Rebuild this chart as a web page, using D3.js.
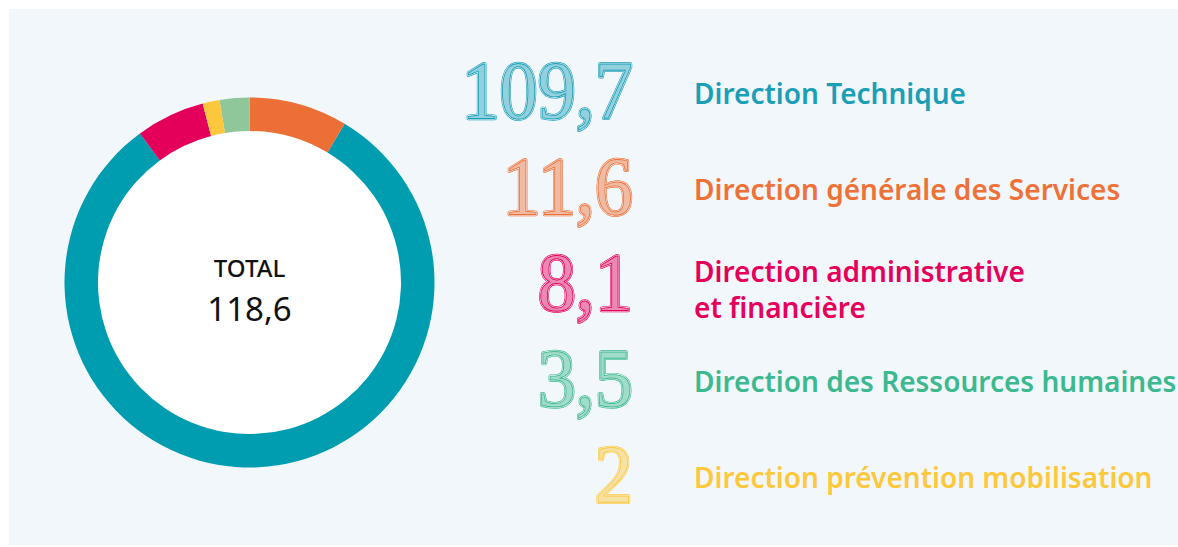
<!DOCTYPE html>
<html>
<head>
<meta charset="utf-8">
<script src="https://cdn.jsdelivr.net/npm/d3@7"></script>
<style>
  html, body { margin: 0; padding: 0; background: #fff; }
  svg { display: block; }
</style>
</head>
<body>
<svg id="chart"></svg>
<script>
// legend order (top to bottom)
var directions = [
  'Direction Technique',
  'Direction générale des Services',
  'Direction administrative\net financière',
  'Direction des Ressources humaines',
  'Direction prévention mobilisation'
];
var amounts = [109.7, 11.6, 8.1, 3.5, 2];
var amountLabels = ['109,7', '11,6', '8,1', '3,5', '2'];
var ringColors = ['#009db0', '#ec7035', '#e4005a', '#8fc79a', '#fdc73d'];
var textColors = ['#1b9fb6', '#ee7238', '#e5005a', '#3db98f', '#fdc83c'];
// order of the slices clockwise from 12 o'clock
var ringOrder = [1, 0, 2, 4, 3];
var totalLabel = 'TOTAL';
var totalValue = '118,6';

document.addEventListener('DOMContentLoaded', () => {
  var W = 1178, H = 547, bg = '#f2f7fc';

  var data = directions.map((d, i) => ({
    name: d, value: amounts[i], label: amountLabels[i],
    ring: ringColors[i], text: textColors[i], idx: i
  }));

  var svg = d3.select('#chart')
    .attr('width', W)
    .attr('height', H);

  svg.append('rect')
    .attr('x', 9).attr('y', 9)
    .attr('width', W - 9).attr('height', H - 11)
    .attr('fill', bg);

  // donut
  var donut = svg.append('g')
    .attr('transform', 'translate(249.5, 282.5)');

  var pie = d3.pie()
    .value(d => d.value)
    .sort((a, b) => ringOrder.indexOf(a.idx) - ringOrder.indexOf(b.idx));

  var arc = d3.arc()
    .innerRadius(151.5)
    .outerRadius(185);

  donut.append('circle')
    .attr('r', 152)
    .attr('fill', '#fff');

  donut.selectAll('path')
    .data(pie(data))
    .enter().append('path')
      .attr('d', arc)
      .attr('fill', d => d.data.ring);

  donut.append('text')
    .attr('y', -6)
    .attr('text-anchor', 'middle')
    .attr('font-family', '"Noto Sans", "Open Sans", sans-serif')
    .attr('font-weight', 500)
    .attr('font-size', 24)
    .attr('fill', '#111')
    .text(totalLabel);

  donut.append('text')
    .attr('y', 38)
    .attr('text-anchor', 'middle')
    .attr('font-family', '"Noto Sans", "Open Sans", sans-serif')
    .attr('font-size', 33)
    .attr('fill', '#111')
    .text(totalValue);

  // legend rows
  var y = d3.scalePoint()
    .domain(d3.range(data.length))
    .range([118, 502]);

  var rows = svg.selectAll('.row')
    .data(data)
    .enter().append('g')
      .attr('class', 'row')
      .attr('transform', d => `translate(0, ${ y(d.idx) })`);

  // engraved-looking numbers: stacked thin outlines, slightly condensed
  var nums = rows.append('g')
    .attr('transform', 'translate(633, 0) scale(0.93, 1)');

  var layers = [
    { sw: 3.4, stroke: d => d.text, fill: d => d.text, op: 1 },
    { sw: 2.0, stroke: () => bg, fill: () => bg, op: 1 },
    { sw: 0.9, stroke: d => d.text, fill: d => d.text, op: 0.45 }
  ];
  layers.forEach(l => {
    nums.append('text')
      .attr('x', 0)
      .attr('text-anchor', 'end')
      .attr('font-family', '"Liberation Serif", serif')
      .attr('font-size', 82)
      .attr('fill', l.fill)
      .attr('fill-opacity', l.op)
      .attr('stroke', l.stroke)
      .attr('stroke-width', l.sw)
      .attr('stroke-linejoin', 'round')
      .text(d => d.label);
  });

  rows.each(function(d) {
    var lines = d.name.split('\n');
    var t = d3.select(this).append('text')
      .attr('x', 694)
      .attr('y', lines.length > 1 ? -28 : -14)
      .attr('font-family', '"Noto Sans", "Open Sans", sans-serif')
      .attr('font-weight', 600)
      .attr('font-size', 28)
      .attr('fill', d.text);
    lines.forEach((s, k) => {
      t.append('tspan')
        .attr('x', 694)
        .attr('dy', k ? 36 : 0)
        .text(s);
    });
  });
});
</script>
</body>
</html>
